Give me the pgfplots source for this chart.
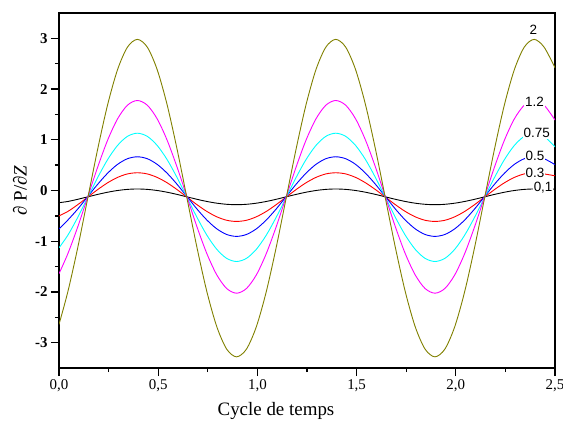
\documentclass[border=0pt]{standalone}
\usepackage{pgfplots}
\pgfplotsset{compat=1.18}
\usepackage{pgfplotstable}
\usepackage{fontspec}
\setmainfont{Liberation Serif}
\newfontfamily\lsans{Liberation Sans}
\definecolor{olivec}{RGB}{128,128,0}
\definecolor{cyanc}{RGB}{0,255,255}
\definecolor{magc}{RGB}{255,0,255}
\definecolor{bluec}{RGB}{0,0,255}
\definecolor{redc}{RGB}{255,0,0}
\tikzset{labnode/.style={fill=white, inner sep=1bp, font=\lsans\fontsize{13.5}{15}\selectfont}}

\pgfplotstableread{
x a b c d e f
0.000 -0.240 -0.500 -0.760 -1.130 -1.640 -2.640
0.045 -0.216 -0.412 -0.581 -0.879 -1.242 -1.990
0.095 -0.173 -0.278 -0.363 -0.526 -0.712 -1.117
0.145 -0.125 -0.130 -0.120 -0.135 -0.125 -0.150
0.195 -0.077 0.018 0.123 0.256 0.462 0.817
0.245 -0.034 0.152 0.341 0.609 0.992 1.690
0.295 0.000 0.258 0.515 0.888 1.412 2.382
0.345 0.022 0.327 0.627 1.068 1.682 2.827
0.395 0.030 0.350 0.665 1.130 1.775 2.980
0.445 0.022 0.327 0.627 1.068 1.682 2.827
0.495 0.000 0.258 0.515 0.888 1.412 2.382
0.545 -0.034 0.152 0.341 0.609 0.992 1.690
0.595 -0.077 0.018 0.123 0.256 0.462 0.817
0.645 -0.125 -0.130 -0.120 -0.135 -0.125 -0.150
0.695 -0.173 -0.278 -0.363 -0.526 -0.712 -1.117
0.745 -0.216 -0.412 -0.581 -0.879 -1.242 -1.990
0.795 -0.250 -0.518 -0.755 -1.158 -1.662 -2.682
0.845 -0.272 -0.587 -0.867 -1.338 -1.932 -3.127
0.895 -0.280 -0.610 -0.905 -1.400 -2.025 -3.280
0.945 -0.272 -0.587 -0.867 -1.338 -1.932 -3.127
0.995 -0.250 -0.518 -0.755 -1.158 -1.662 -2.682
1.045 -0.216 -0.412 -0.581 -0.879 -1.242 -1.990
1.095 -0.173 -0.278 -0.363 -0.526 -0.712 -1.117
1.145 -0.125 -0.130 -0.120 -0.135 -0.125 -0.150
1.195 -0.077 0.018 0.123 0.256 0.462 0.817
1.245 -0.034 0.152 0.341 0.609 0.992 1.690
1.295 0.000 0.258 0.515 0.888 1.412 2.382
1.345 0.022 0.327 0.627 1.068 1.682 2.827
1.395 0.030 0.350 0.665 1.130 1.775 2.980
1.445 0.022 0.327 0.627 1.068 1.682 2.827
1.495 0.000 0.258 0.515 0.888 1.412 2.382
1.545 -0.034 0.152 0.341 0.609 0.992 1.690
1.595 -0.077 0.018 0.123 0.256 0.462 0.817
1.645 -0.125 -0.130 -0.120 -0.135 -0.125 -0.150
1.695 -0.173 -0.278 -0.363 -0.526 -0.712 -1.117
1.745 -0.216 -0.412 -0.581 -0.879 -1.242 -1.990
1.795 -0.250 -0.518 -0.755 -1.158 -1.662 -2.682
1.845 -0.272 -0.587 -0.867 -1.338 -1.932 -3.127
1.895 -0.280 -0.610 -0.905 -1.400 -2.025 -3.280
1.945 -0.272 -0.587 -0.867 -1.338 -1.932 -3.127
1.995 -0.250 -0.518 -0.755 -1.158 -1.662 -2.682
2.045 -0.216 -0.412 -0.581 -0.879 -1.242 -1.990
2.095 -0.173 -0.278 -0.363 -0.526 -0.712 -1.117
2.145 -0.125 -0.130 -0.120 -0.135 -0.125 -0.150
2.195 -0.077 0.018 0.123 0.256 0.462 0.817
2.245 -0.034 0.152 0.341 0.609 0.992 1.690
2.295 0.000 0.258 0.515 0.888 1.412 2.382
2.345 0.022 0.327 0.627 1.068 1.682 2.827
2.395 0.030 0.350 0.665 1.130 1.775 2.980
2.445 0.022 0.327 0.627 1.068 1.682 2.827
2.500 0.030 0.290 0.510 0.860 1.390 2.420
}\datatable

\begin{document}
\begin{tikzpicture}
\useasboundingbox (-59bp,-63bp) rectangle (504bp,368bp);
\begin{axis}[
  at={(0,0)}, anchor=south west,
  scale only axis, width=496bp, height=355bp,
  xmin=0, xmax=2.5, ymin=-3.5, ymax=3.5,
  xtick={0,0.5,1,1.5,2,2.5}, ytick={-3,-2,-1,0,1,2,3},
  xticklabels={{0,0},{0,5},{1,0},{1,5},{2,0},{2,5}},
  yticklabels={\textbf{-3},\textbf{-2},\textbf{-1},\textbf{0},\textbf{1},\textbf{2},\textbf{3}},
  minor x tick num=1, minor y tick num=1,
  tick align=outside, tick pos=left,
  major tick length=8bp, minor tick length=4bp,
  axis line style={line width=1.3bp},
  every tick/.append style={line width=1.3bp, black},
  every minor tick/.append style={line width=1.3bp, black},
  xticklabel style={font=\fontsize{15}{17}\selectfont},
  yticklabel style={font=\fontsize{15}{17}\selectfont},
  xlabel={Cycle de temps},
  xlabel style={at={(axis description cs:0.4375,0)}, anchor=base, yshift=-47bp, font=\fontsize{19}{22}\selectfont},
  ylabel={∂ P/\textit{∂Z}},
  ylabel style={at={(axis description cs:-0.0786,0.5)}, anchor=center, font=\fontsize{19}{21}\selectfont},
  every axis plot/.append style={line width=0.9bp, smooth},
]
\addplot[black] table[x=x, y=a] {\datatable};
\addplot[redc] table[x=x, y=b] {\datatable};
\addplot[bluec] table[x=x, y=c] {\datatable};
\addplot[cyanc] table[x=x, y=d] {\datatable};
\addplot[magc] table[x=x, y=e] {\datatable};
\addplot[olivec] table[x=x, y=f] {\datatable};
\node[labnode] at (axis cs:2.391,3.16) {2};
\node[labnode] at (axis cs:2.397,1.742) {1.2};
\node[labnode] at (axis cs:2.408,1.136) {0.75};
\node[labnode] at (axis cs:2.399,0.675) {0.5};
\node[labnode] at (axis cs:2.399,0.34) {0.3};
\node[labnode] at (axis cs:2.44,0.05) {0,1};
\end{axis}
\end{tikzpicture}
\end{document}
